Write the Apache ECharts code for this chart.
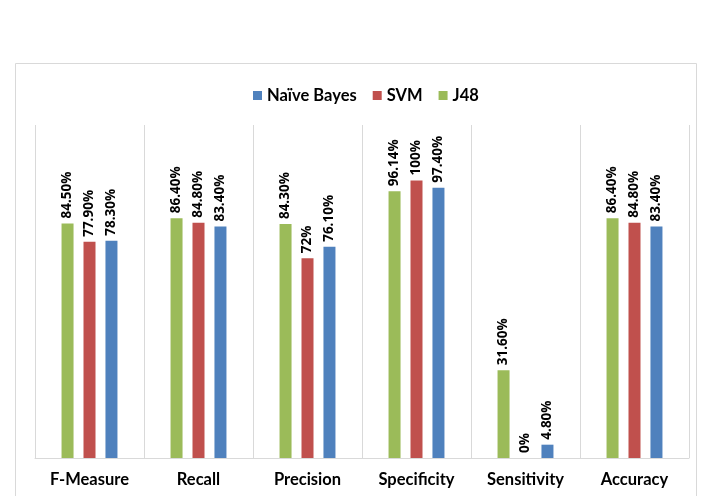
<!DOCTYPE html>
<html><head><meta charset="utf-8">
<script src="https://cdn.jsdelivr.net/npm/echarts@6/dist/echarts.min.js"></script>
<style>html,body{margin:0;padding:0;background:#fff}#c{width:712px;height:496px}</style>
</head><body><div id="c"></div>
<script>
var categories = ['F-Measure','Recall','Precision','Specificity','Sensitivity','Accuracy'];
var j48 = [84.5, 86.4, 84.3, 96.14, 31.6, 86.4];
var svm = [77.9, 84.8, 72, 100, 0, 84.8];
var naiveBayes = [78.3, 83.4, 76.1, 97.4, 4.8, 83.4];
var legendOrder = ['Naïve Bayes','SVM','J48'];

function fmt(p){ var v=p.value; return (Math.round(v)===v ? String(v) : v.toFixed(2)) + '%'; }
var labelCfg = {show:true, position:'top', rotate:90, align:'left', verticalAlign:'middle', distance:5,
  formatter:fmt, color:'#000', fontFamily:'Open Sans', fontWeight:'bold', fontSize:13.5};
function mk(name, data, color){
  return {name:name, type:'bar', data:data, barWidth:12, barGap:'83%', itemStyle:{color:color}, label:labelCfg};
}
var chart = echarts.init(document.getElementById('c'), null, {renderer:'canvas'});
chart.setOption({
  animation:false,
  graphic:[{type:'rect', shape:{x:15.5,y:63.5,width:681,height:460}, style:{fill:'none', stroke:'#d9d9d9', lineWidth:1}, z:-1}],
  legend:{data:legendOrder, top:82, left:248, itemWidth:9, itemHeight:9, itemGap:16, icon:'rect',
    textStyle:{fontFamily:'Lato', fontWeight:'bold', fontSize:16.5, color:'#000'}},
  grid:{left:35, right:23, top:125, bottom:38, containLabel:false},
  xAxis:{type:'category', data:categories,
    axisLine:{lineStyle:{color:'#d9d9d9'}}, axisTick:{show:false},
    splitLine:{show:true, lineStyle:{color:'#d9d9d9'}},
    axisLabel:{margin:13, color:'#000', fontFamily:'Lato', fontWeight:'bold', fontSize:16.5}},
  yAxis:{type:'value', min:0, max:120, interval:20, show:false, splitLine:{show:false}},
  series:[mk('J48', j48, '#9BBB59'), mk('SVM', svm, '#C0504D'), mk('Naïve Bayes', naiveBayes, '#4F81BD')]
});
</script></body></html>
